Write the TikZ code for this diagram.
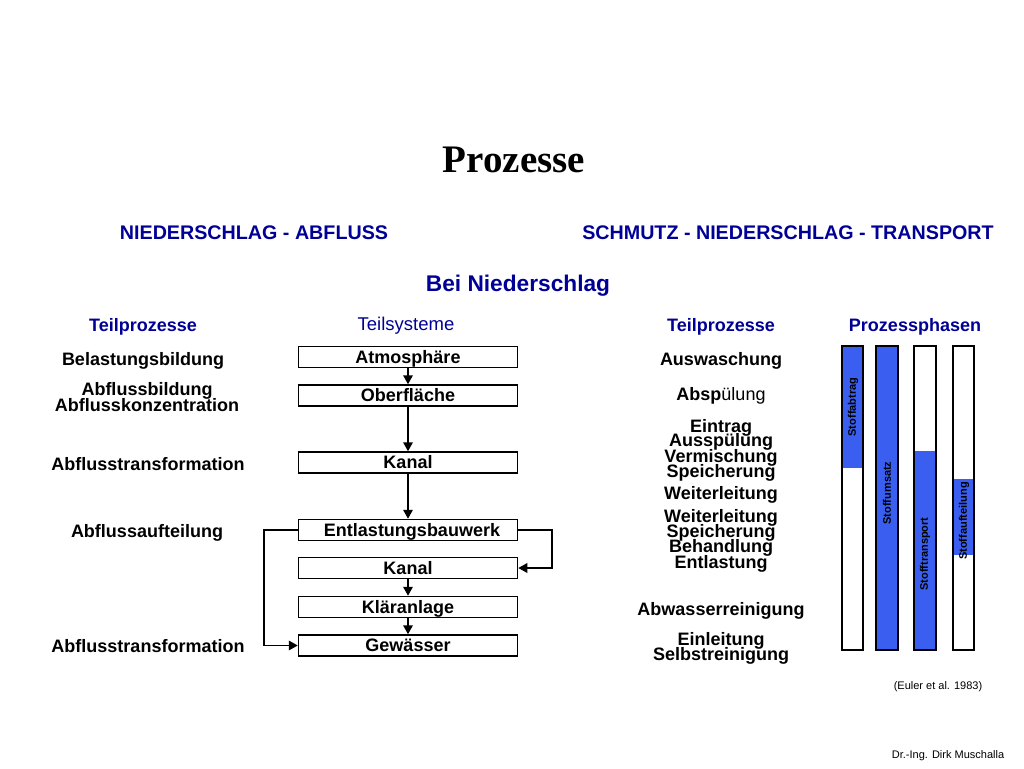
\documentclass[tikz,border=0pt]{standalone}
\usepackage{fontspec}
\setmainfont{Liberation Sans}
\newfontfamily\serifbf{Liberation Serif}
\usetikzlibrary{arrows.meta}
\definecolor{navy}{RGB}{0,0,150}
\definecolor{barblue}{RGB}{58,95,240}
\tikzset{
  head/.style={font=\fontsize{18}{18}\selectfont\bfseries, text=navy, inner sep=0pt, text height=12.9pt, text depth=0pt},
  lbl/.style={font=\fontsize{18}{18}\selectfont\bfseries, inner sep=0pt, text height=12.9pt, text depth=0pt},
  sysbox/.style={draw, line width=1.5pt, minimum width=219pt, minimum height=21pt, inner sep=0pt, text height=12.9pt, text depth=0pt, font=\fontsize{18}{18}\selectfont\bfseries},
  arr/.style={line width=1.8pt, -{Triangle[length=9pt,width=9.5pt]}},
  bar/.style={draw, line width=1.2pt},
  vlab/.style={rotate=90, font=\fontsize{11}{11}\selectfont\bfseries, inner sep=0pt},
  small/.style={font=\fontsize{11}{11}\selectfont, inner sep=0pt}
}
\begin{document}
\begin{tikzpicture}[x=1pt,y=-1pt]
\useasboundingbox[fill=white] (0,0) rectangle (1024,768);
% title
\node[font=\fontsize{39}{39}\selectfont\serifbf\bfseries, inner sep=0pt] (title) at (514,160) {Prozesse};
\node[head, font=\fontsize{19.7}{19.7}\selectfont\bfseries, text height=14.1pt] (h1) at (254,232) {NIEDERSCHLAG - ABFLUSS};
\node[head, font=\fontsize{19.7}{19.7}\selectfont\bfseries, text height=14.1pt] (h2) at (788,232) {SCHMUTZ - NIEDERSCHLAG - TRANSPORT};
\node[head, font=\fontsize{22.7}{22.7}\selectfont\bfseries, text height=16.3pt] (bei) at (518,283.5) {Bei Niederschlag};
\node[head] (tp1) at (143,325) {Teilprozesse};
\node[head, font=\fontsize{18.5}{18.5}\selectfont, text height=13.2pt] (ts) at (406,323.5) {Teilsysteme};
\node[head] (tp2) at (721,325) {Teilprozesse};
\node[head] (pp) at (915,325) {Prozessphasen};
% left column
\node[lbl] (l1) at (143,359) {Belastungsbildung};
\node[lbl] (l2a) at (147,389.5) {Abflussbildung};
\node[lbl] (l2b) at (147,405) {Abflusskonzentration};
\node[lbl] (l3) at (148,464) {Abflusstransformation};
\node[lbl] (l4) at (147,531.5) {Abflussaufteilung};
\node[lbl] (l5) at (148,646.5) {Abflusstransformation};
% boxes
\node[sysbox] (atm) at (408,357) {Atmosphäre};
\node[sysbox] (obe) at (408,395.5) {Oberfläche};
\node[sysbox] (kan1) at (408,462.5) {Kanal};
\node[sysbox] (ent) at (408,530) {\hspace*{8pt}Entlastungsbauwerk};
\node[sysbox] (kan2) at (408,568) {Kanal};
\node[sysbox] (klae) at (408,607) {Kläranlage};
\node[sysbox] (gew) at (408,645.5) {Gewässer};
\draw[arr] (atm) -- (obe);
\draw[arr] (obe) -- (kan1);
\draw[arr] (kan1) -- (ent);
\draw[arr] (kan2) -- (klae);
\draw[arr] (klae) -- (gew);
\draw[arr] (ent.west) -- ++(-34,0) |- (gew.west);
\draw[arr] (ent.east) -- ++(34,0) |- (kan2.east);
% right column
\node[lbl] (r1) at (721,359.5) {Auswaschung};
\node[lbl] (r2) at (721,394.5) {Absp\mdseries ülung};
\node[lbl] (r3a) at (721,426) {Eintrag};
\node[lbl] (r3b) at (721,440.5) {Ausspülung};
\node[lbl] (r3c) at (721,456) {Vermischung};
\node[lbl] (r3d) at (721,471) {Speicherung};
\node[lbl] (r4) at (721,493) {Weiterleitung};
\node[lbl] (r5a) at (721,516) {Weiterleitung};
\node[lbl] (r5b) at (721,531) {Speicherung};
\node[lbl] (r5c) at (721,546) {Behandlung};
\node[lbl] (r5d) at (721,562) {Entlastung};
\node[lbl] (r6) at (721,609.5) {Abwasserreinigung};
\node[lbl] (r7a) at (721,639) {Einleitung};
\node[lbl] (r7b) at (721,654) {Selbstreinigung};
% bars
\fill[barblue] (842,346) rectangle (863,468);
\draw[bar] (842,346) rectangle (863,650);
\fill[barblue] (876,346) rectangle (898,650);
\draw[bar] (876,346) rectangle (898,650);
\fill[barblue] (914,451) rectangle (936,650);
\draw[bar] (914,346) rectangle (936,650);
\fill[barblue] (953,479) rectangle (974,555);
\draw[bar] (953,346) rectangle (974,650);
\node[vlab] (b1) at (853,407) {Stoffabtrag};
\node[vlab] (b2) at (887,493) {Stoffumsatz};
\node[vlab] (b3) at (925,554) {Stofftransport};
\node[vlab] (b4) at (964,521) {Stoffaufteilung};
% footer
\node[small] (src) at (938,687) {(Euler et al. 1983)};
\node[small] (auth) at (948,756) {Dr.-Ing. Dirk Muschalla};
\end{tikzpicture}
\end{document}
